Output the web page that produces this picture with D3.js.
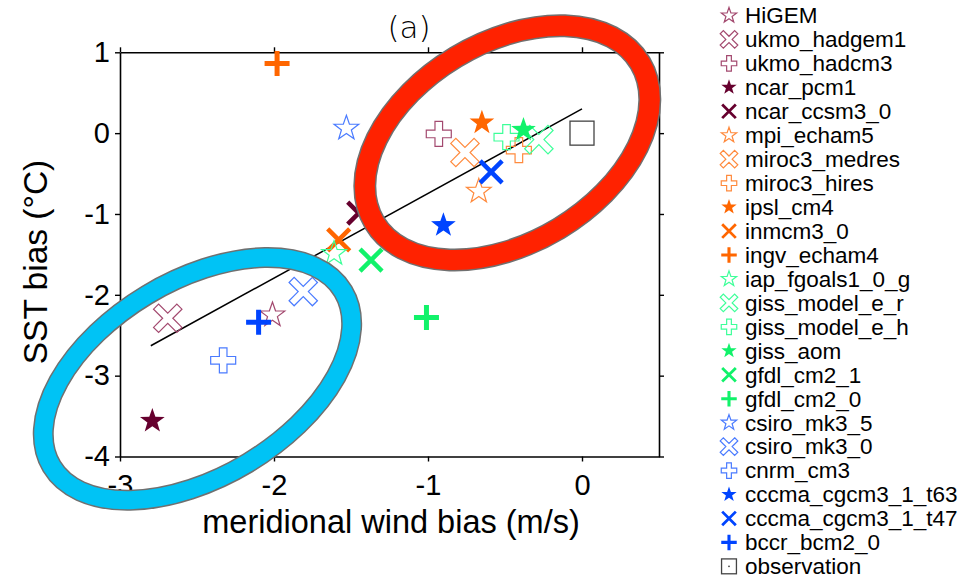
<!DOCTYPE html>
<html>
<head>
<meta charset="utf-8">
<script src="https://cdn.jsdelivr.net/npm/d3@7"></script>
<style>
  body { margin: 0; background: #fff; }
  text { font-family: "Liberation Sans", Arial, sans-serif; }
</style>
</head>
<body>
<div id="chart"></div>
<script>
// model names, legend order
const models = ["HiGEM", "ukmo_hadgem1", "ukmo_hadcm3", "ncar_pcm1", "ncar_ccsm3_0",
  "mpi_echam5", "miroc3_medres", "miroc3_hires", "ipsl_cm4", "inmcm3_0", "ingv_echam4",
  "iap_fgoals1_0_g", "giss_model_e_r", "giss_model_e_h", "giss_aom", "gfdl_cm2_1",
  "gfdl_cm2_0", "csiro_mk3_5", "csiro_mk3_0", "cnrm_cm3", "cccma_cgcm3_1_t63",
  "cccma_cgcm3_1_t47", "bccr_bcm2_0", "observation"];

// meridional wind bias (m/s)
const windBias = [-2.01, -2.69, -0.93, -2.79, -1.45,
  -0.67, -0.76, -0.41, -0.65, -1.58, -1.98,
  -1.61, -0.28, -0.49, -0.38, -1.37,
  -1.01, -1.53, -1.81, -2.33, -0.90,
  -0.59, -2.10, 0];

// SST bias (C)
const sstBias = [-2.25, -2.29, -0.01, -3.56, -0.99,
  -0.72, -0.24, -0.21, 0.13, -1.32, 0.86,
  -1.49, -0.08, -0.05, 0.04, -1.57,
  -2.28, 0.06, -1.96, -2.81, -1.14,
  -0.48, -2.34, 0];

// regression line end points
const fitX = [-2.8, 0];
const fitY = [-2.63, 0.30];

const xTicks = [-3, -2, -1, 0];
const yTicks = [-4, -3, -2, -1, 0, 1];

// marker look per model
const shapes = ["starOpen", "xOpen", "plusOpen", "starFill", "xThick",
  "starOpen", "xOpen", "plusOpen", "starFill", "xThick", "plusThick",
  "starOpen", "xOpen", "plusOpen", "starFill", "xThick",
  "plusThick", "starOpen", "xOpen", "plusOpen", "starFill",
  "xThick", "plusThick", "square"];
const colors = ["#a3496f", "#a3496f", "#a3496f", "#66002e", "#66002e",
  "#ff8a3d", "#ff8a3d", "#ff8a3d", "#ff6600", "#ff6600", "#ff6600",
  "#3dff99", "#3dff99", "#3dff99", "#11f26a", "#11f26a",
  "#11f26a", "#4a7bff", "#4a7bff", "#4a7bff", "#0044ff",
  "#0044ff", "#0044ff", "#444"];

const width = 969, height = 579;
const x = d3.scaleLinear().domain([-3, 0.5]).range([120, 659]);
const y = d3.scaleLinear().domain([-4, 1]).range([456.5, 52.3]);

const svg = d3.select("#chart").append("svg")
  .attr("width", width)
  .attr("height", height);

function starPath(R) {
  const r = R * 0.4;
  let pts = [];
  for (let i = 0; i < 10; i++) {
    const a = -Math.PI / 2 + i * Math.PI / 5;
    const rr = i % 2 === 0 ? R : r;
    pts.push([rr * Math.cos(a), rr * Math.sin(a)]);
  }
  return "M" + pts.map(p => p[0].toFixed(2) + "," + p[1].toFixed(2)).join("L") + "Z";
}

function plusOutline(R, w, rot) {
  const p = [[-w, -R], [w, -R], [w, -w], [R, -w], [R, w], [w, w], [w, R], [-w, R],
    [-w, w], [-R, w], [-R, -w], [-w, -w]];
  const c = Math.cos(rot), s = Math.sin(rot);
  return "M" + p.map(q => (q[0] * c - q[1] * s).toFixed(2) + "," + (q[0] * s + q[1] * c).toFixed(2)).join("L") + "Z";
}

function drawMarker(g, shape, color, k) {
  if (shape === "starOpen") {
    g.append("path").attr("d", starPath(13 * k)).attr("fill", "none")
      .attr("stroke", color).attr("stroke-width", 1.2);
  } else if (shape === "starFill") {
    g.append("path").attr("d", starPath(13 * k)).attr("fill", color);
  } else if (shape === "plusOpen") {
    g.append("path").attr("d", plusOutline(12.5 * k, 3.8 * k, 0)).attr("fill", "none")
      .attr("stroke", color).attr("stroke-width", 1.2);
  } else if (shape === "xOpen") {
    g.append("path").attr("d", plusOutline(16.5 * k, 3.6 * k, Math.PI / 4)).attr("fill", "none")
      .attr("stroke", color).attr("stroke-width", 1.2);
  } else if (shape === "plusThick") {
    const R = 12.5 * k;
    g.append("path").attr("d", `M${-R},0L${R},0M0,${-R}L0,${R}`)
      .attr("stroke", color).attr("stroke-width", 5 * k);
  } else if (shape === "xThick") {
    const R = 11 * k;
    g.append("path").attr("d", `M${-R},${-R}L${R},${R}M${-R},${R}L${R},${-R}`)
      .attr("stroke", color).attr("stroke-width", 4.5 * k);
  } else if (shape === "square") {
    const s = 12 * k;
    g.append("rect").attr("x", -s).attr("y", -s).attr("width", 2 * s).attr("height", 2 * s)
      .attr("fill", "none").attr("stroke", color).attr("stroke-width", 1.3);
    if (k < 1) {
      g.append("circle").attr("r", 0.9).attr("fill", color);
    }
  }
}

// axes
function styleAxis(g) {
  g.selectAll("path.domain").attr("stroke", "#000").attr("stroke-width", 1.6);
  g.selectAll(".tick line").attr("stroke", "#000").attr("stroke-width", 1.4);
  g.selectAll("text").attr("font-size", 29).attr("fill", "#000")
    .style("font-family", "'Liberation Sans', Arial, sans-serif");
}

svg.append("g").attr("transform", "translate(0," + y(-4) + ")")
  .call(d3.axisBottom(x).tickValues(xTicks).tickFormat(d => String(d)).tickSize(5).tickSizeOuter(0).tickPadding(13))
  .call(styleAxis);
svg.append("g").attr("transform", "translate(0," + y(1) + ")")
  .call(d3.axisTop(x).tickValues(xTicks).tickFormat("").tickSize(5).tickSizeOuter(0))
  .call(styleAxis);
svg.append("g").attr("transform", "translate(" + x(-3) + ",0)")
  .call(d3.axisLeft(y).tickValues(yTicks).tickFormat(d => String(d)).tickSize(5).tickSizeOuter(0).tickPadding(5))
  .call(styleAxis);
svg.append("g").attr("transform", "translate(" + x(0.5) + ",0)")
  .call(d3.axisRight(y).tickValues(yTicks).tickFormat("").tickSize(5).tickSizeOuter(0))
  .call(styleAxis);

// axis titles
svg.append("text")
  .attr("x", 391).attr("y", 533)
  .attr("text-anchor", "middle")
  .attr("font-size", 32.5)
  .text("meridional wind bias (m/s)");

svg.append("text")
  .attr("transform", "translate(47,262) rotate(-90)")
  .attr("text-anchor", "middle")
  .attr("font-size", 33.5)
  .text("SST bias (°C)");

svg.append("text")
  .attr("x", 409).attr("y", 38)
  .attr("text-anchor", "middle")
  .attr("font-size", 31)
  .attr("font-weight", 200)
  .attr("fill", "#000")
  .style("font-family", "'DejaVu Sans ExtraLight', 'DejaVu Sans', sans-serif")
  .text("(a)");

// fit line
svg.append("line")
  .attr("x1", x(fitX[0])).attr("y1", y(fitY[0]))
  .attr("x2", x(fitX[1])).attr("y2", y(fitY[1]))
  .attr("stroke", "#000").attr("stroke-width", 1.5);

// points
models.forEach((m, i) => {
  const g = svg.append("g")
    .attr("transform", "translate(" + x(windBias[i]) + "," + y(sstBias[i]) + ")");
  drawMarker(g, shapes[i], colors[i], 1);
});

// highlight ellipses (annotation)
const rings = [
  { cx: -0.485, cy: -0.12, rx: 155, ry: 100, angle: -31, color: "#ff2200", w: 20 },
  { cx: -2.497, cy: -3.04, rx: 170, ry: 98, angle: -31, color: "#00c3f5", w: 18 }
];
rings.forEach(r => {
  const g = svg.append("g")
    .attr("transform", "translate(" + x(r.cx) + "," + y(r.cy) + ") rotate(" + r.angle + ")");
  g.append("ellipse").attr("rx", r.rx).attr("ry", r.ry)
    .attr("fill", "none").attr("stroke", "#707070").attr("stroke-width", r.w + 3);
  g.append("ellipse").attr("rx", r.rx).attr("ry", r.ry)
    .attr("fill", "none").attr("stroke", r.color).attr("stroke-width", r.w);
});

// legend
const legend = svg.append("g");
models.forEach((m, i) => {
  const yy = 15.5 + i * 23.95;
  const g = legend.append("g").attr("transform", "translate(729," + yy + ")");
  drawMarker(g, shapes[i], colors[i], 0.62);
  legend.append("text")
    .attr("x", 745).attr("y", yy)
    .attr("dy", "0.35em")
    .attr("font-size", 22.5)
    .text(m);
});
</script>
</body>
</html>
